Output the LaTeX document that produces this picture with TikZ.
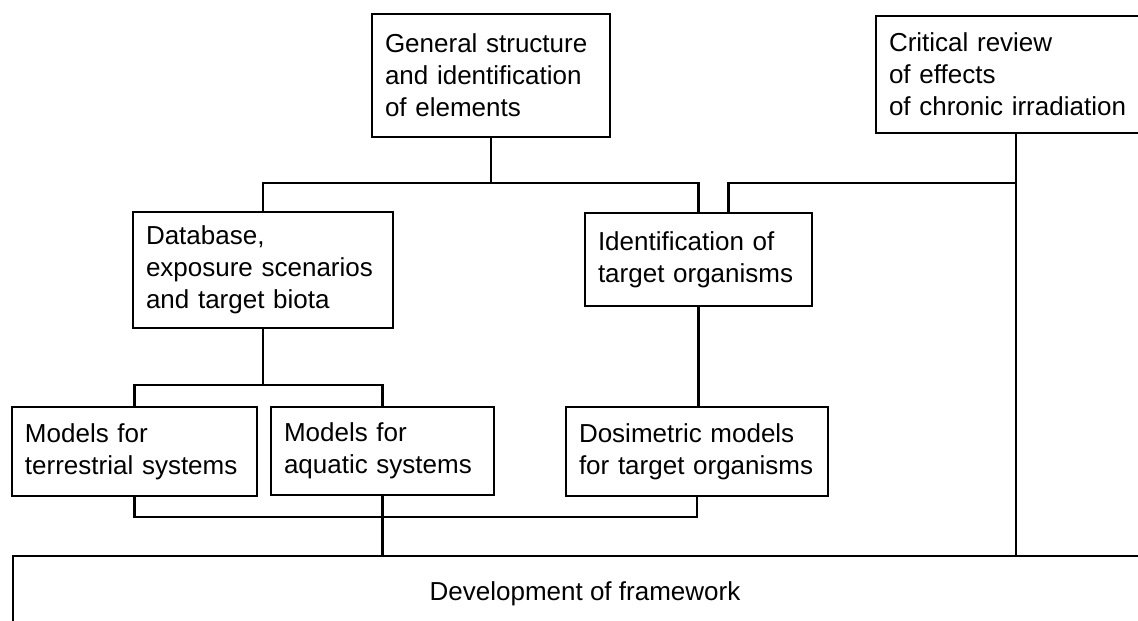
\documentclass[tikz,border=0pt]{standalone}
\usepackage{fontspec}
\setmainfont{Liberation Sans}
\begin{document}
\begin{tikzpicture}[x=0.5pt,y=-0.5pt,
    blk/.style={draw,line width=1.3pt,anchor=north west,outer sep=0pt,
      align=left,inner xsep=6.5pt,font=\fontsize{13}{16}\selectfont},
    lnk/.style={line width=1.3pt}]
    \clip (0,0) rectangle (1138,620);
    %% first row
    \node[blk,minimum width=119pt,minimum height=61.5pt,text width=106pt] (gen) at (372,14)
      {General structure\\and identification\\of elements};
    \node[blk,minimum width=140pt,minimum height=58.5pt,text width=127pt] (crit) at (876,16)
      {Critical review\\of effects\\of chronic irradiation};
    %% second row
    \node[blk,minimum width=130pt,minimum height=58pt,text width=117pt] (data) at (133,212)
      {Database,\\exposure scenarios\\and target biota};
    \node[blk,minimum width=113.5pt,minimum height=46.5pt,text width=100.5pt] (ident) at (585,213)
      {Identification of\\target organisms};
    %% third row
    \node[blk,minimum width=122.5pt,minimum height=44.5pt,text width=109.5pt] (terr) at (12,407)
      {Models for\\terrestrial systems};
    \node[blk,minimum width=111.5pt,minimum height=44pt,text width=98.5pt] (aqua) at (271,407)
      {Models for\\aquatic systems};
    \node[blk,minimum width=131pt,minimum height=44.5pt,text width=118pt] (dosi) at (566,407)
      {Dosimetric models\\for target organisms};
    %% framework
    \node[blk,align=center,minimum width=572pt,minimum height=38pt] (frame) at (13,556)
      {Development of framework};
    %% levels of the joins
    \coordinate (up) at (0,183);
    \coordinate (mid) at (0,385);
    \coordinate (low) at (0,517);
    \coordinate (in) at ([xshift=15pt]ident.north);
    %% connectors
    \draw[lnk] (gen.south) -- (gen.south |- up);
    \draw[lnk] (data.north) -- (data.north |- up) -- (ident.north |- up) -- (ident.north);
    \draw[lnk] (crit.south) -- (crit.south |- frame.north);
    \draw[lnk] (crit.south |- up) -- (in |- up) -- (in);
    \draw[lnk] (data.south) -- (data.south |- mid);
    \draw[lnk] (terr.north) -- (terr.north |- mid) -- (aqua.north |- mid) -- (aqua.north);
    \draw[lnk] (ident.south) -- (ident.south |- dosi.north);
    \draw[lnk] (terr.south) -- (terr.south |- low) -- (dosi.south |- low) -- (dosi.south);
    \draw[lnk] (aqua.south) -- (aqua.south |- frame.north);
\end{tikzpicture}
\end{document}
